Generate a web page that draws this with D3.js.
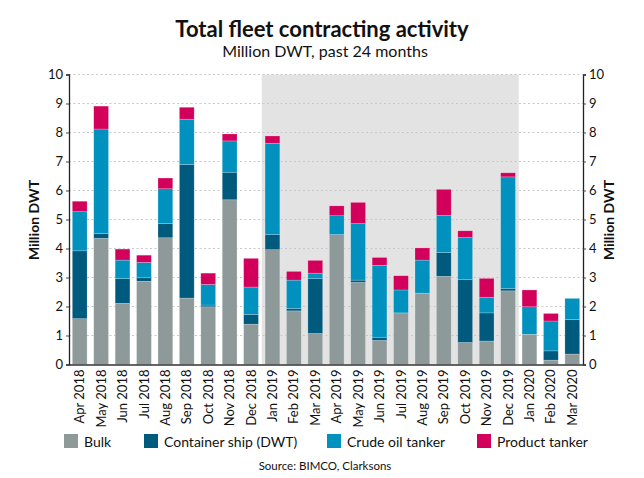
<!DOCTYPE html>
<html lang="en">
<head>
<meta charset="utf-8">
<title>Total fleet contracting activity</title>
<script src="https://cdn.jsdelivr.net/npm/d3@7"></script>
<style>
  body { margin: 0; background: #fff; font-family: Lato, "Open Sans", sans-serif; }
  svg text { fill: #111; }
</style>
</head>
<body>
<script>
// data (million DWT)
var months = ["Apr 2018","May 2018","Jun 2018","Jul 2018","Aug 2018","Sep 2018","Oct 2018","Nov 2018",
              "Dec 2018","Jan 2019","Feb 2019","Mar 2019","Apr 2019","May 2019","Jun 2019","Jul 2019",
              "Aug 2019","Sep 2019","Oct 2019","Nov 2019","Dec 2019","Jan 2020","Feb 2020","Mar 2020"];
var bulk      = [1.58,4.35,2.11,2.87,4.37,2.29,1.99,5.68,1.39,3.96,1.85,1.07,4.48,2.83,0.83,1.78,2.46,3.04,0.76,0.81,2.54,1.04,0.15,0.36];
var container = [2.34,0.17,0.85,0.12,0.49,4.61,0.06,0.95,0.34,0.52,0.08,1.89,0.00,0.08,0.11,0.00,0.00,0.82,2.17,0.97,0.08,0.00,0.32,1.19];
var crude     = [1.35,3.60,0.64,0.53,1.20,1.56,0.71,1.08,0.94,3.15,0.98,0.19,0.65,1.95,2.48,0.79,1.14,1.28,1.45,0.54,3.85,0.95,1.03,0.73];
var product   = [0.36,0.79,0.38,0.25,0.37,0.41,0.39,0.24,0.99,0.25,0.30,0.44,0.34,0.73,0.27,0.49,0.42,0.90,0.23,0.65,0.14,0.58,0.26,0.00];
var seriesNames = ["Bulk","Container ship (DWT)","Crude oil tanker","Product tanker"];
var colors = ["#8e9a9a","#005a7d","#0091bf","#d2005a"];
var yTicks = [0,1,2,3,4,5,6,7,8,9,10];
var shadeFrom = "Jan 2019", shadeTo = "Dec 2019";

var w = 644, h = 478;
var plotL = 69, plotR = 583, plotT = 74.5, plotB = 364.5;

var svg = d3.select("body").append("svg")
  .attr("width", w).attr("height", h);

var table = months.map(function(m, i) {
  return { month: m, b: bulk[i], c: container[i], o: crude[i], p: product[i] };
});
var stack = d3.stack().keys(["b","c","o","p"])(table);

var x = d3.scaleBand().domain(months).range([plotL, plotR])
  .paddingInner(0.31).paddingOuter(0.155);
var y = d3.scaleLinear().domain([0, 10]).range([plotB, plotT]);

// titles
svg.append("text").attr("x", 322).attr("y", 37).attr("text-anchor", "middle")
  .style("font-size", "22px").style("font-weight", "bold").text("Total fleet contracting activity");
svg.append("text").attr("x", 325).attr("y", 57).attr("text-anchor", "middle")
  .style("font-size", "16px").text("Million DWT, past 24 months");

// shaded 2019 block
var step = x.step();
svg.append("rect")
  .attr("x", x(shadeFrom) - (step - x.bandwidth()) / 2)
  .attr("width", x(shadeTo) - x(shadeFrom) + step)
  .attr("y", y(10)).attr("height", y(0) - y(10))
  .attr("fill", "#e3e3e3");

// dotted gridlines
svg.selectAll("line.grid").data(yTicks.slice(1)).enter().append("line")
  .attr("class", "grid")
  .attr("x1", plotL).attr("x2", plotR)
  .attr("y1", function(d) { return y(d); }).attr("y2", function(d) { return y(d); })
  .attr("stroke", "#c8c8c8").attr("stroke-width", 1.2).attr("stroke-dasharray", "2,2.5");

// bars
svg.selectAll("g.layer").data(stack).enter().append("g")
  .attr("class", "layer")
  .attr("fill", function(d, i) { return colors[i]; })
  .selectAll("rect").data(function(d) { return d; }).enter().append("rect")
  .attr("x", function(d) { return x(d.data.month); })
  .attr("width", x.bandwidth())
  .attr("y", function(d) { return y(d[1]); })
  .attr("height", function(d) { return Math.max(0, y(d[0]) - y(d[1])); })
  .attr("stroke", "rgba(255,255,255,0.35)").attr("stroke-width", 0.6);

// axes
var leftAxis = svg.append("g").attr("transform", "translate(" + plotL + ",0)")
  .call(d3.axisLeft(y).tickValues(yTicks).tickSize(3).tickPadding(3));
var rightAxis = svg.append("g").attr("transform", "translate(" + plotR + ",0)")
  .call(d3.axisRight(y).tickValues(yTicks).tickSize(3).tickPadding(3));
[leftAxis, rightAxis].forEach(function(a) {
  a.select(".domain").attr("stroke", "#222").attr("stroke-width", 1.3);
  a.selectAll(".tick line").attr("stroke", "#444");
  a.selectAll("text").style("font-size", "13px").style("font-family", "Lato, sans-serif").attr("fill", "#111");
});

var xAxis = svg.append("g").attr("transform", "translate(0," + plotB + ")")
  .call(d3.axisBottom(x).tickSize(0).tickPadding(5));
xAxis.select(".domain").attr("stroke", "#333").attr("stroke-width", 1.3);
xAxis.selectAll("text")
  .style("font-size", "13px").style("font-family", "Lato, sans-serif").attr("fill", "#111")
  .attr("text-anchor", "end")
  .attr("transform", "rotate(-90)")
  .attr("x", -5).attr("y", 0).attr("dy", "0.35em");

// axis titles
svg.append("text").attr("transform", "translate(39,220) rotate(-90)")
  .attr("text-anchor", "middle").style("font-size", "14px").style("font-weight", "bold").text("Million DWT");
svg.append("text").attr("transform", "translate(614,220) rotate(-90)")
  .attr("text-anchor", "middle").style("font-size", "14px").style("font-weight", "bold").text("Million DWT");

// legend
var legendX = [64, 144, 327, 477];
var legend = svg.selectAll("g.legend").data(seriesNames).enter().append("g")
  .attr("class", "legend")
  .attr("transform", function(d, i) { return "translate(" + legendX[i] + ",434)"; });
legend.append("rect").attr("width", 14).attr("height", 14)
  .attr("fill", function(d, i) { return colors[i]; });
legend.append("text").attr("x", 20).attr("y", 12.5)
  .style("font-size", "14px").text(function(d) { return d; });

svg.append("text").attr("x", 325).attr("y", 470).attr("text-anchor", "middle")
  .style("font-size", "11.5px").text("Source: BIMCO, Clarksons");
</script>
</body>
</html>
